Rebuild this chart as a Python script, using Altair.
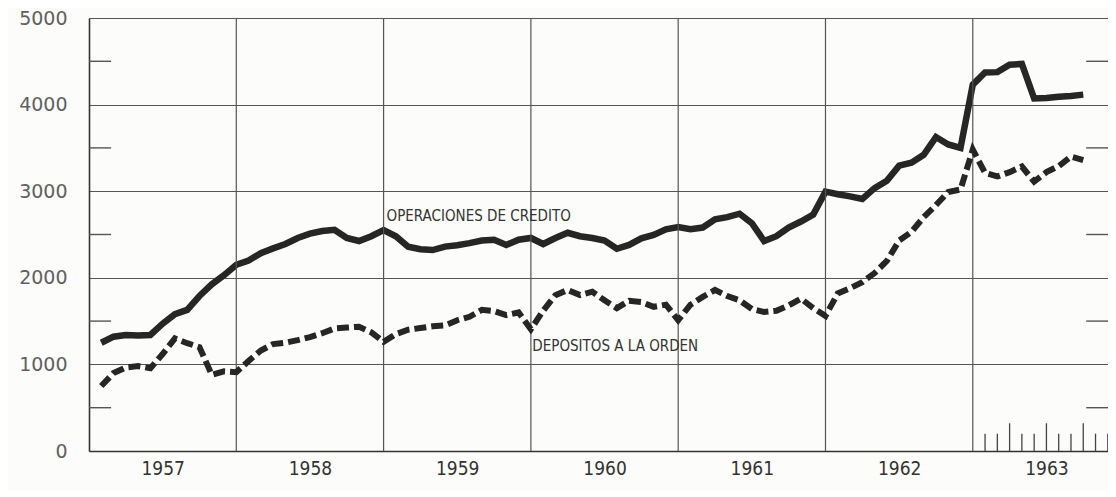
import altair as alt
import pandas as pd

# ---- data (monthly, Feb 1957 .. Oct 1963) ----
start_year = 1957
start_month = 2

credito = [1250, 1320, 1340, 1335, 1340, 1470, 1580, 1630, 1790, 1925, 2030,
           2150, 2200, 2285, 2340, 2390, 2460, 2510, 2540, 2555, 2460, 2425, 2480,
           2550, 2480, 2360, 2330, 2320, 2360, 2375, 2400, 2430, 2440, 2380, 2440,
           2460, 2390, 2460, 2520, 2480, 2460, 2430, 2335, 2380, 2455, 2495, 2560,
           2585, 2560, 2580, 2675, 2700, 2740, 2630, 2425, 2480, 2580, 2650, 2730,
           2995, 2965, 2940, 2910, 3035, 3120, 3295, 3330, 3420, 3625, 3540, 3500,
           4230, 4370, 4375, 4460, 4470, 4070, 4075, 4090, 4100, 4115]

depositos = [750, 900, 965, 980, 955, 1120, 1300, 1245, 1200, 880, 920,
             910, 1040, 1160, 1235, 1250, 1280, 1315, 1360, 1415, 1425, 1435, 1370,
             1260, 1350, 1400, 1420, 1440, 1450, 1510, 1550, 1630, 1615, 1570, 1600,
             1405, 1620, 1800, 1860, 1800, 1840, 1740, 1650, 1735, 1720, 1665, 1690,
             1510, 1690, 1780, 1860, 1790, 1740, 1640, 1605, 1620, 1680, 1760, 1650,
             1560, 1820, 1880, 1950, 2055, 2195, 2430, 2530, 2700, 2840, 2990, 3020,
             3480, 3210, 3170, 3220, 3285, 3110, 3220, 3290, 3400, 3360]

year_labels = [1957, 1958, 1959, 1960, 1961, 1962, 1963]
year_lines = [1958, 1959, 1960, 1961, 1962, 1963]
y_major = [0, 1000, 2000, 3000, 4000, 5000]
y_half = [500, 1500, 2500, 3500, 4500]

# monthly ticks along the bottom in 1963 (month number, tick length in value units)
tick_months = [2, 3, 4, 5, 6, 7, 8, 9, 10, 11, 12]
tick_len = [200, 200, 320, 200, 200, 320, 200, 200, 320, 200, 200]

label_text = ["OPERACIONES DE CREDITO", "DEPOSITOS A LA ORDEN"]
label_t = [1959.02, 1960.01]
label_v = [2660, 1150]

X_MIN, X_MAX = 1957.0, 1963.918
HALF_LEFT_END = 1957.15
HALF_RIGHT_START = 1963.77

# ---- tables ----
t_vals = [start_year + (start_month - 1 + i) / 12 for i in range(len(credito))]
df_c = pd.DataFrame({"t": t_vals, "v": credito})
df_d = pd.DataFrame({"t": t_vals, "v": depositos})
df_years = pd.DataFrame({"yr": year_lines})
df_half = pd.DataFrame({
    "v": y_half + y_half,
    "x0": [X_MIN] * len(y_half) + [HALF_RIGHT_START] * len(y_half),
    "x1": [HALF_LEFT_END] * len(y_half) + [X_MAX] * len(y_half),
})
df_ticks = pd.DataFrame({"t": [1963 + (m - 1) / 12 for m in tick_months],
                         "y0": [0] * len(tick_months), "len": tick_len})
df_lab = pd.DataFrame({"t": label_t, "v": label_v, "txt": label_text})

xscale = alt.Scale(domain=[X_MIN, X_MAX], nice=False, zero=False)
yscale = alt.Scale(domain=[0, 5000], nice=False)

GRID = "#555555"
COND = "'DejaVu Sans Condensed', 'Liberation Sans Narrow', 'Roboto Condensed', Roboto, sans-serif"

x_axis = alt.Axis(values=[y + 0.5 for y in year_labels], labelExpr="floor(datum.value)",
                  grid=False, ticks=False, domain=True, domainColor="#333333",
                  domainWidth=1.6, labelFont=COND,
                  labelFontSize=19, labelColor="#333333", labelPadding=8, title=None)
y_axis = alt.Axis(values=y_major, format="d", grid=True, gridColor=GRID, gridWidth=1.2,
                  ticks=False, domain=True, domainColor="#333333", domainWidth=1.6,
                  labelFont="DejaVu Sans", labelFontSize=19, labelColor="#606060",
                  labelPadding=22, title=None)

base_x = alt.X("t:Q", scale=xscale, axis=x_axis)
base_y = alt.Y("v:Q", scale=yscale, axis=y_axis)

vlines = alt.Chart(df_years).mark_rule(color=GRID, strokeWidth=1.2).encode(
    x=alt.X("yr:Q", scale=xscale)
)

half = alt.Chart(df_half).mark_rule(color=GRID, strokeWidth=1.4).encode(
    x=alt.X("x0:Q", scale=xscale), x2="x1:Q",
    y=alt.Y("v:Q", scale=yscale)
)

mticks = alt.Chart(df_ticks).mark_rule(color="#444444", strokeWidth=1.3).encode(
    x=alt.X("t:Q", scale=xscale), y=alt.Y("y0:Q", scale=yscale), y2="len:Q"
)

line_c = alt.Chart(df_c).mark_line(color="#262626", strokeWidth=6.5, strokeJoin="miter",
                                   strokeCap="butt").encode(x=base_x, y=base_y)
line_d = alt.Chart(df_d).mark_line(color="#262626", strokeWidth=6, strokeDash=[12, 5],
                                   strokeCap="butt").encode(x=base_x, y=base_y)

labels = alt.Chart(df_lab).mark_text(align="left", baseline="alphabetic",
                                     font=COND, fontSize=15,
                                     color="#333333").encode(
    x=alt.X("t:Q", scale=xscale), y=alt.Y("v:Q", scale=yscale), text="txt:N"
)

chart = alt.layer(line_c, vlines, half, mticks, line_d, labels).properties(
    width=1019, height=433,
    autosize=alt.AutoSizeParams(type="none"),
    padding={"left": 81, "top": 10, "right": 0, "bottom": 40},
    background="#fcfcfa",
).configure_view(stroke=None)

chart.save("out.html", embed_options={"renderer": "svg", "actions": False})
